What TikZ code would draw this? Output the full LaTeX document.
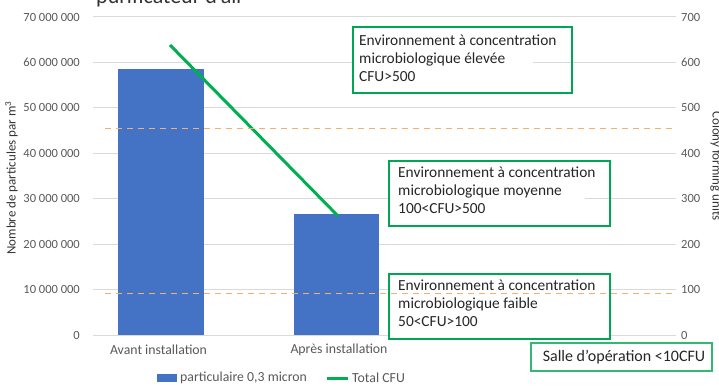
\documentclass[tikz,border=0pt]{standalone}
\usepackage{fontspec}
\setmainfont{Carlito}
\definecolor{barblue}{RGB}{68,114,196}
\definecolor{cfugreen}{RGB}{0,176,80}
\definecolor{gridgray}{RGB}{217,217,217}
\definecolor{axgray}{RGB}{89,89,89}
\definecolor{dashorange}{RGB}{244,177,110}
\definecolor{boxgreen}{RGB}{0,166,81}
\tikzset{
  grid line/.style={draw=gridgray, line width=1pt},
  ylab/.style={text=axgray, font=\fontsize{12.5}{14}\selectfont, inner sep=0pt},
  catlab/.style={text=axgray, font=\fontsize{13.8}{16}\selectfont, inner sep=0pt},
  bar/.style={fill=barblue, draw=none},
  limitline/.style={draw=dashorange, line width=1pt, dash pattern=on 6pt off 5pt},
  zonebox/.style={draw=boxgreen, line width=1.3pt},
  zonetext/.style={anchor=north west, align=left, inner sep=0pt, text=black!85,
    font=\fontsize{15.4}{17.8}\selectfont},
  cfuline/.style={draw=cfugreen, line width=3pt}
}
\begin{document}
\begin{tikzpicture}[x=1pt,y=-1pt]
\useasboundingbox (0,0) rectangle (719,388);
\clip (0,0) rectangle (719,388);
% title (cropped)
\node[anchor=base west, inner sep=0pt, text=black!80, font=\fontsize{22}{24}\selectfont] (title) at (96,3.5) {purificateur d'air};
% gridlines and axis labels
\foreach \i/\l/\r in {0/0/0,1/10 000 000/100,2/20 000 000/200,3/30 000 000/300,4/40 000 000/400,5/50 000 000/500,6/60 000 000/600,7/70 000 000/700}{
  \pgfmathsetmacro{\yy}{335-45.43*\i}
  \draw[grid line] (93,\yy) -- (676,\yy);
  \node[ylab, anchor=east] (l\i) at (80,\yy) {\l};
  \node[ylab, anchor=west] (r\i) at (681,\yy) {\r};
}
% axis titles
\node[rotate=90, text=black!80, font=\fontsize{13}{15}\selectfont, inner sep=0pt] (ytitle) at (11.5,178) {Nombre de particules par m\textsuperscript{3}};
\node[rotate=-90, text=black!80, font=\fontsize{13}{15}\selectfont, inner sep=0pt] (y2title) at (716,166) {Colony forming units};
% bars
\path[bar] (118,335) rectangle (204,69);
\path[bar] (294,335) rectangle (379,214);
\node[catlab] (c1) at (158.5,350) {Avant installation};
\node[catlab] (c2) at (339,350) {Après installation};
% CFU line
\coordinate (p1) at (170,45);
\coordinate (p2) at (338,216);
\draw[cfuline] (p1) -- (p2);
% zone boxes
\fill[white] (353,27) rectangle (533,93);
\draw[zonebox] (353,27) rectangle (572,93);
\node[zonetext] (z1) at (359,35) {Environnement à concentration\\microbiologique élevée\\CFU>500};
\fill[white] (389,161) rectangle (585,226);
\draw[zonebox] (389,161) rectangle (610,226);
\node[zonetext] (z2) at (398,167) {Environnement à concentration\\microbiologique moyenne\\100<CFU>500};
\fill[white] (389,274) rectangle (610,339);
\draw[zonebox] (389,274) rectangle (610,339);
\node[zonetext] (z3) at (398,280) {Environnement à concentration\\microbiologique faible\\50<CFU>100};
% limit lines
\draw[limitline] (105,128) -- (676,128);
\draw[limitline] (105,293) -- (676,293);
% operating room box
\draw[zonebox, draw=boxgreen!80] (531,343) rectangle (712,371);
\node[inner sep=0pt, text=black!85, font=\fontsize{16}{18}\selectfont] (z4) at (624,357) {Salle d'opération <10CFU};
% legend
\path[bar] (157,374) rectangle (177,382);
\node[catlab, anchor=west] (leg1) at (180,378) {particulaire 0,3 micron};
\draw[cfuline] (327,378) -- (348,378);
\node[catlab, anchor=west] (leg2) at (352,378) {Total CFU};
\end{tikzpicture}
\end{document}
